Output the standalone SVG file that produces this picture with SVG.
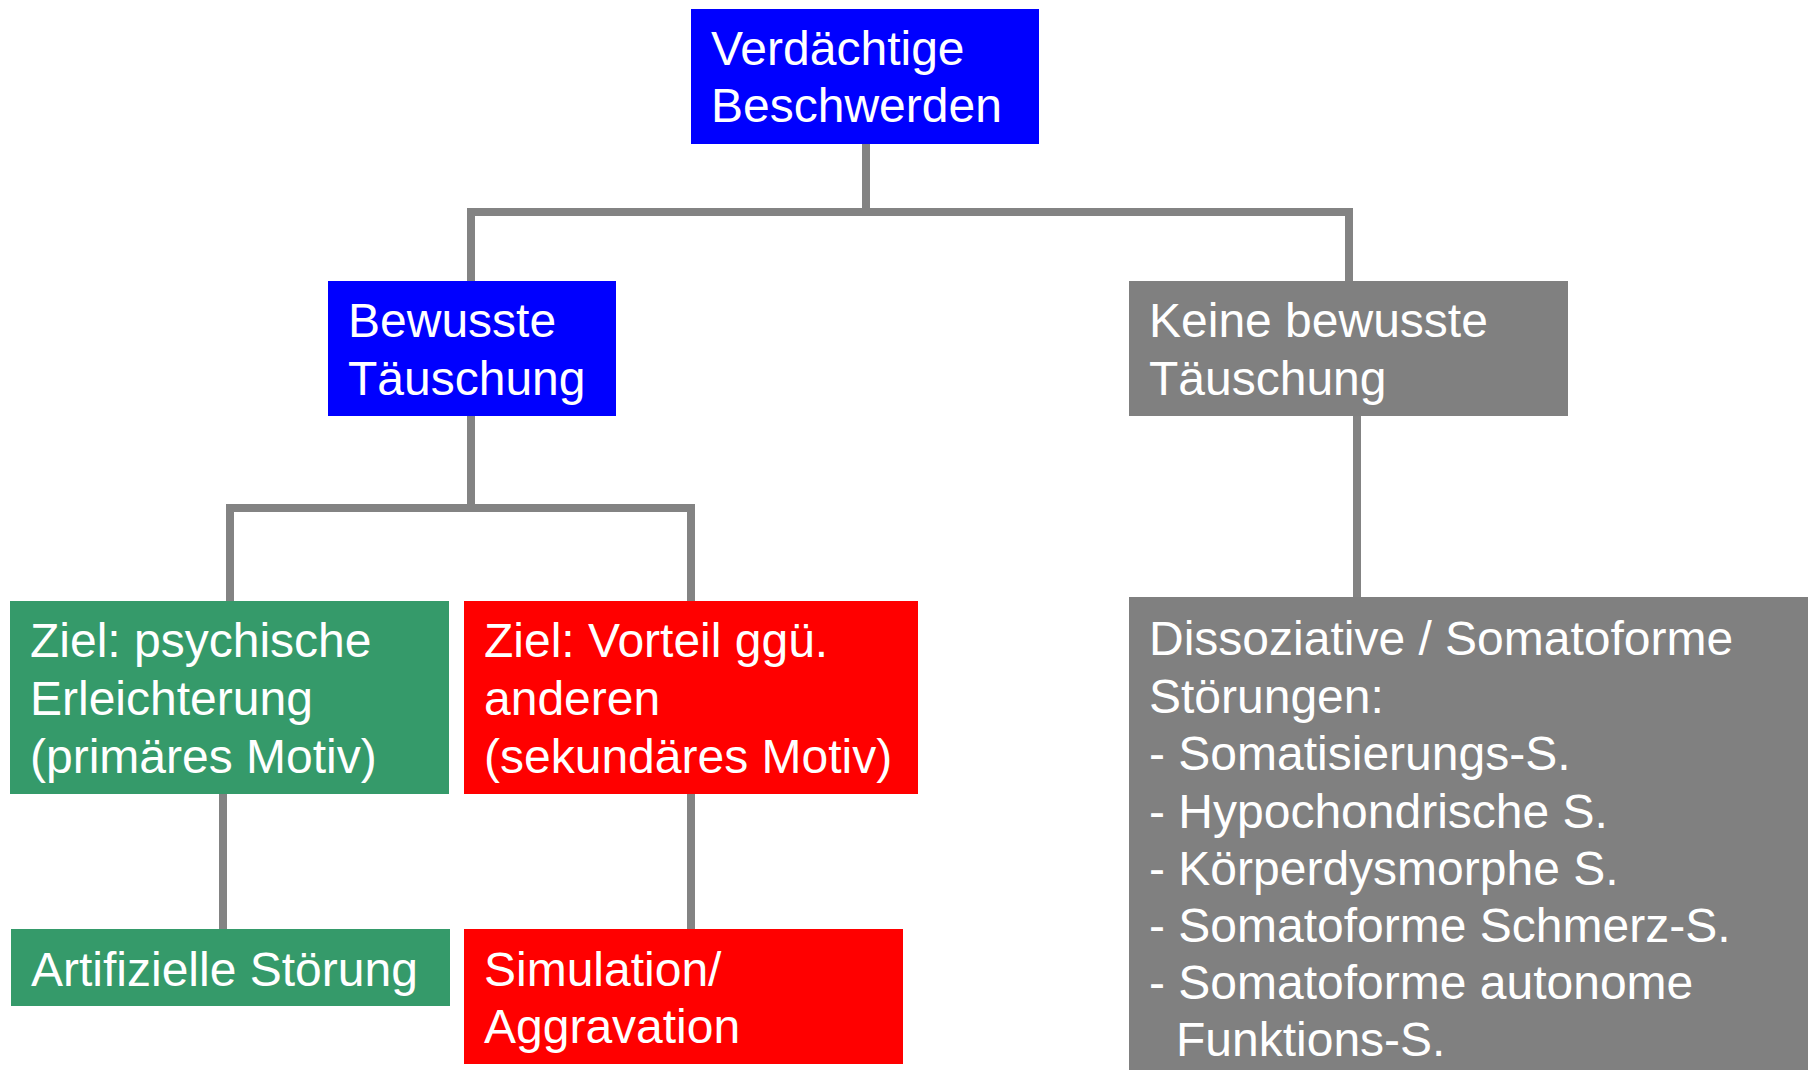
<svg xmlns="http://www.w3.org/2000/svg" width="1814" height="1070" viewBox="0 0 1814 1070">
<style>
.t{font-family:"Liberation Sans",Arial,sans-serif;font-size:48px;fill:#ffffff}
.c{stroke:#838383;stroke-width:8;fill:none}
.blue{fill:#0000ff}.grey{fill:#808080}.green{fill:#359a6a}.red{fill:#ff0000}
</style>
<rect width="1814" height="1070" fill="#ffffff"/>
<g id="connectors">
<path class="c" d="M866,144V212M471,281V212H1349V281"/>
<path class="c" d="M471,416V508M230,601V508H691V601"/>
<path class="c" d="M223,794V929"/>
<path class="c" d="M691,794V929"/>
<path class="c" d="M1357,416V597"/>
</g>
<g id="n_verdaechtige">
<rect class="blue" x="691" y="9" width="348" height="135"/>
<text class="t" x="711" y="65">Verdächtige<tspan x="711" y="122">Beschwerden</tspan></text>
</g>
<g id="n_bewusste">
<rect class="blue" x="328" y="281" width="288" height="135"/>
<text class="t" x="348" y="337">Bewusste<tspan x="348" y="395">Täuschung</tspan></text>
</g>
<g id="n_keine">
<rect class="grey" x="1129" y="281" width="439" height="135"/>
<text class="t" x="1149" y="337">Keine bewusste<tspan x="1149" y="395">Täuschung</tspan></text>
</g>
<g id="n_psychisch">
<rect class="green" x="10" y="601" width="439" height="193"/>
<text class="t" x="30" y="657">Ziel: psychische<tspan x="30" y="715">Erleichterung</tspan><tspan x="30" y="773">(primäres Motiv)</tspan></text>
</g>
<g id="n_vorteil">
<rect class="red" x="464" y="601" width="454" height="193"/>
<text class="t" x="484" y="657">Ziel: Vorteil ggü.<tspan x="484" y="715">anderen</tspan><tspan x="484" y="773">(sekundäres Motiv)</tspan></text>
</g>
<g id="n_artifiziell">
<rect class="green" x="11" y="929" width="439" height="77"/>
<text class="t" x="31" y="986">Artifizielle Störung</text>
</g>
<g id="n_simulation">
<rect class="red" x="464" y="929" width="439" height="135"/>
<text class="t" x="484" y="986">Simulation/<tspan x="484" y="1043">Aggravation</tspan></text>
</g>
<g id="n_dissoziativ">
<rect class="grey" x="1129" y="597" width="679" height="473"/>
<text class="t" x="1149" y="655">Dissoziative / Somatoforme<tspan x="1149" y="713">Störungen:</tspan><tspan x="1149" y="770">- Somatisierungs-S.</tspan><tspan x="1149" y="828">- Hypochondrische S.</tspan><tspan x="1149" y="885">- Körperdysmorphe S.</tspan><tspan x="1149" y="942">- Somatoforme Schmerz-S.</tspan><tspan x="1149" y="999">- Somatoforme autonome</tspan><tspan x="1176" y="1056">Funktions-S.</tspan></text>
</g>
</svg>
